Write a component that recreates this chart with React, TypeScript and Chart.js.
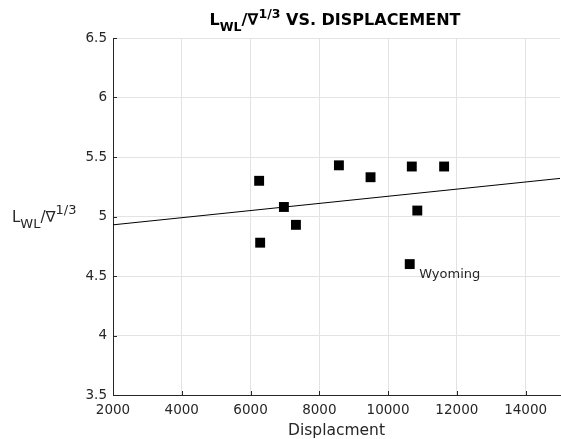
import { useEffect, useRef } from 'react';
import { Chart, registerables } from 'chart.js';

Chart.register(...registerables);

const FONT = '"DejaVu Sans", Verdana, sans-serif';
const TEXT = '#262626';

// Boats: displacement vs L_WL / ∇^(1/3)
const displacement = [6250, 6280, 6970, 7320, 8570, 9490, 10690, 11630, 10850, 10630];
const ratio = [5.30, 4.78, 5.08, 4.93, 5.43, 5.33, 5.42, 5.42, 5.05, 4.60];
const pointNames = ['', '', '', '', '', '', '', '', '', 'Wyoming'];

// Fitted trend line end points
const fitX = [2000, 15000];
const fitY = [4.93, 5.32];

const xTicks = [2000, 4000, 6000, 8000, 10000, 12000, 14000];
const yTicks = [3.5, 4, 4.5, 5, 5.5, 6, 6.5];

type Part = { text: string; size: number; bold?: boolean; dy?: number };

function drawRich(ctx: CanvasRenderingContext2D, parts: Part[], x: number, y: number, align: 'left' | 'center') {
  const widths: number[] = [];
  let total = 0;
  for (const p of parts) {
    ctx.font = `${p.bold ? 'bold ' : ''}${p.size}px ${FONT}`;
    const w = ctx.measureText(p.text).width;
    widths.push(w);
    total += w;
  }
  let cx = align === 'center' ? x - total / 2 : x;
  ctx.textAlign = 'left';
  ctx.textBaseline = 'alphabetic';
  parts.forEach((p, i) => {
    ctx.font = `${p.bold ? 'bold ' : ''}${p.size}px ${FONT}`;
    ctx.fillText(p.text, cx, y + (p.dy || 0));
    cx += widths[i];
  });
}

const decorPlugin = {
  id: 'decor',
  afterDraw(chart: any) {
    const ctx = chart.ctx as CanvasRenderingContext2D;
    const area = chart.chartArea;
    const xs = chart.scales.x;
    const ys = chart.scales.y;
    ctx.save();
    // inward tick marks
    ctx.strokeStyle = TEXT;
    ctx.lineWidth = 1;
    ctx.beginPath();
    for (const v of yTicks) {
      const py = Math.round(ys.getPixelForValue(v)) + 0.5;
      ctx.moveTo(area.left, py);
      ctx.lineTo(area.left + 4, py);
    }
    for (const v of xTicks) {
      const px = Math.round(xs.getPixelForValue(v)) + 0.5;
      ctx.moveTo(px, area.bottom);
      ctx.lineTo(px, area.bottom - 4);
    }
    ctx.stroke();

    ctx.fillStyle = '#000';
    // title
    const cx = (area.left + area.right) / 2 - 1.5;
    drawRich(ctx, [
      { text: 'L', size: 16, bold: true },
      { text: 'WL', size: 12.5, bold: true, dy: 6 },
      { text: '/∇', size: 16, bold: true },
      { text: '1/3', size: 12.5, bold: true, dy: -7 },
      { text: ' VS. DISPLACEMENT', size: 16, bold: true },
    ], cx, 25, 'center');

    // y-axis label
    ctx.fillStyle = TEXT;
    const ly = ys.getPixelForValue(5) + 5.5;
    drawRich(ctx, [
      { text: 'L', size: 15 },
      { text: 'WL', size: 13, dy: 6 },
      { text: '/∇', size: 15 },
      { text: '1/3', size: 13, dy: -8 },
    ], 12, ly, 'left');

    // point labels
    ctx.font = `13px ${FONT}`;
    ctx.textAlign = 'left';
    ctx.textBaseline = 'alphabetic';
    pointNames.forEach((name, i) => {
      if (!name) return;
      const px = xs.getPixelForValue(displacement[i]);
      const py = ys.getPixelForValue(ratio[i]);
      ctx.fillText(name, px + 9.5, py + 13.5);
    });
    ctx.restore();
  },
};

export default function App() {
  const ref = useRef<HTMLCanvasElement>(null);

  useEffect(() => {
    if (!ref.current) return;
    const chart = new Chart(ref.current, {
      type: 'scatter',
      data: {
        datasets: [
          {
            data: displacement.map((x, i) => ({ x, y: ratio[i] })),
            pointStyle: 'rect',
            pointRadius: 7,
            backgroundColor: '#000',
            borderColor: '#000',
            borderWidth: 0,
            showLine: false,
          },
          {
            data: fitX.map((x, i) => ({ x, y: fitY[i] })),
            showLine: true,
            pointRadius: 0,
            borderColor: '#000',
            borderWidth: 1,
            backgroundColor: '#000',
          },
        ],
      },
      options: {
        responsive: false,
        animation: false,
        events: [],
        layout: { autoPadding: false, padding: { top: 38, right: 1, left: 0, bottom: 0 } },
        plugins: {
          legend: { display: false },
          tooltip: { enabled: false },
          title: { display: false },
        },
        scales: {
          x: {
            type: 'linear',
            min: 2000,
            max: 15000,
            afterBuildTicks: (s: any) => {
              s.ticks = xTicks.map((v) => ({ value: v }));
            },
            afterFit: (s: any) => {
              s.height = 44;
              s.paddingLeft = 0;
              s.paddingRight = 0;
            },
            grid: { color: '#e3e3e3', drawTicks: false },
            border: { color: TEXT, width: 1 },
            ticks: {
              color: TEXT,
              font: { family: FONT, size: 13.5 },
              padding: 7,
              maxRotation: 0,
              callback: (v: any) => String(v),
            },
            title: {
              display: true,
              text: 'Displacment',
              color: TEXT,
              font: { family: FONT, size: 15.5 },
              padding: { top: 0, bottom: -1 },
            },
          },
          y: {
            type: 'linear',
            min: 3.5,
            max: 6.5,
            afterBuildTicks: (s: any) => {
              s.ticks = yTicks.map((v) => ({ value: v }));
            },
            afterFit: (s: any) => {
              s.width = 113;
              s.paddingTop = 0;
              s.paddingBottom = 0;
            },
            grid: { color: '#e3e3e3', drawTicks: false },
            border: { color: TEXT, width: 1 },
            ticks: {
              color: TEXT,
              font: { family: FONT, size: 13.5 },
              padding: 6,
              callback: (v: any) => String(v),
            },
          },
        },
      },
      plugins: [decorPlugin],
    });
    return () => chart.destroy();
  }, []);

  return (
    <div style={{ position: 'absolute', left: 0, top: 0, width: 561, height: 439, background: '#fff' }}>
      <canvas ref={ref} width={561} height={439} style={{ display: 'block' }} />
    </div>
  );
}
